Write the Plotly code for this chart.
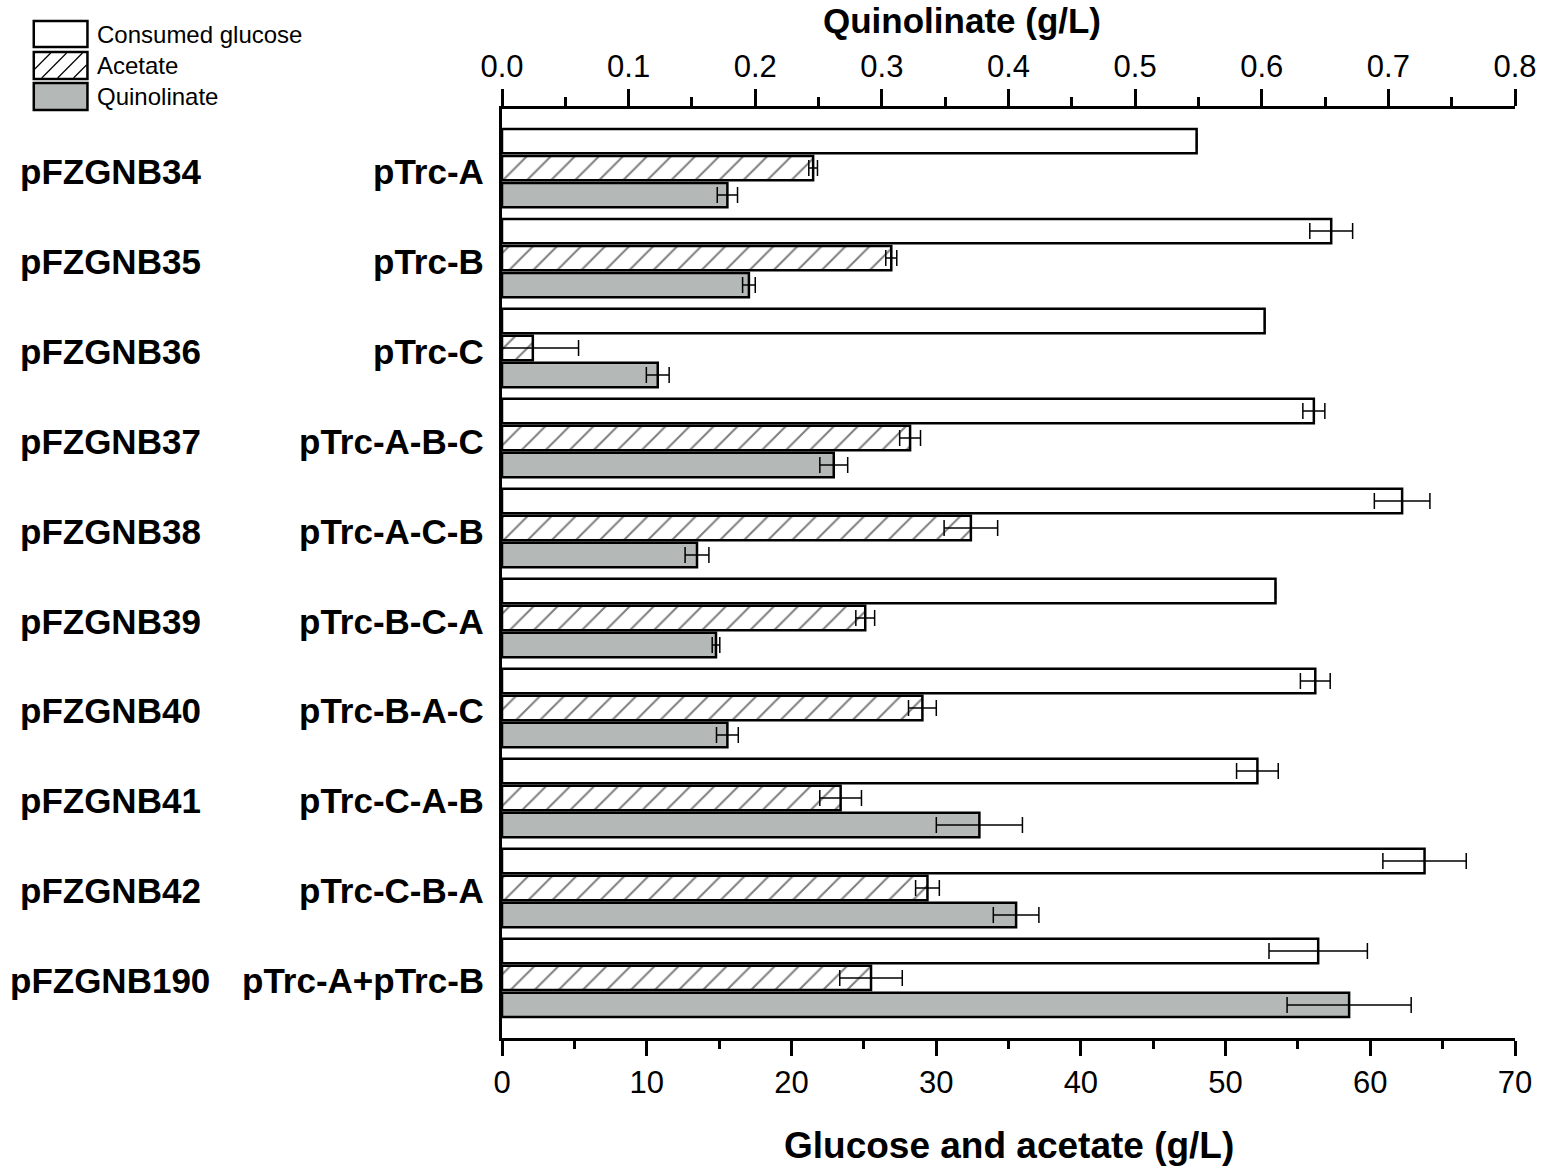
import plotly.graph_objects as go

plasmids = ["pFZGNB34", "pFZGNB35", "pFZGNB36", "pFZGNB37", "pFZGNB38",
            "pFZGNB39", "pFZGNB40", "pFZGNB41", "pFZGNB42", "pFZGNB190"]
constructs = ["pTrc-A", "pTrc-B", "pTrc-C", "pTrc-A-B-C", "pTrc-A-C-B",
              "pTrc-B-C-A", "pTrc-B-A-C", "pTrc-C-A-B", "pTrc-C-B-A", "pTrc-A+pTrc-B"]

glucose = [48.0, 57.3, 52.7, 56.1, 62.2, 53.45, 56.2, 52.2, 63.75, 56.4]
glucose_err = [0.0, 1.48, 0.0, 0.76, 1.92, 0.0, 1.03, 1.44, 2.88, 3.4]
acetate = [21.5, 26.9, 2.13, 28.2, 32.4, 25.1, 29.05, 23.4, 29.4, 25.5]
acetate_err = [0.3, 0.38, 3.16, 0.72, 1.85, 0.65, 0.96, 1.44, 0.82, 2.16]
quinolinate = [0.178, 0.195, 0.123, 0.262, 0.154, 0.169, 0.178, 0.377, 0.406, 0.669]
quinolinate_err = [0.008, 0.005, 0.009, 0.011, 0.0094, 0.003, 0.0086, 0.034, 0.018, 0.049]

FONT = "Arial, Liberation Sans, sans-serif"
W, H = 1549, 1170
X0, X1, YT, YB = 502, 1521, 109, 1038
PW, PH = X1 - X0, YB - YT

def px(x):
    return (x - X0) / PW

def py(y):
    return (YB - y) / PH

idx = list(range(len(plasmids)))
OFF = 0.3
BW = 0.27
err_style = dict(type="data", visible=True, color="black", thickness=1.5, width=8)

fig = go.Figure()
fig.add_trace(go.Bar(
    y=[i - OFF for i in idx], x=glucose, orientation="h", width=BW,
    marker=dict(color="white", line=dict(color="black", width=2.5)),
    error_x=dict(array=glucose_err, **err_style), name="Consumed glucose",
    xaxis="x", yaxis="y", showlegend=False))
fig.add_trace(go.Bar(
    y=idx, x=acetate, orientation="h", width=BW,
    marker=dict(color="white", line=dict(color="black", width=2.5),
                pattern=dict(shape="/", fgcolor="black", bgcolor="white",
                             size=17, solidity=0.12, fillmode="overlay")),
    error_x=dict(array=acetate_err, **err_style), name="Acetate",
    xaxis="x", yaxis="y", showlegend=False))
fig.add_trace(go.Bar(
    y=[i + OFF for i in idx], x=quinolinate, orientation="h", width=BW,
    marker=dict(color="#b4b8b6", line=dict(color="black", width=2.5)),
    error_x=dict(array=quinolinate_err, **err_style), name="Quinolinate",
    xaxis="x2", yaxis="y", showlegend=False))

axis_common = dict(showline=True, linecolor="black", linewidth=2.5,
                   showgrid=False, zeroline=False, ticks="outside",
                   tickcolor="black", tickwidth=2.5,
                   tickfont=dict(family=FONT, size=31, color="black"))

fig.update_layout(
    width=W, height=H, autosize=False,
    margin=dict(l=X0, r=W - X1, t=YT, b=H - YB, pad=0),
    plot_bgcolor="white", paper_bgcolor="white",
    barmode="overlay", showlegend=False,
    xaxis=dict(range=[0, 70], tickvals=list(range(0, 71, 10)), ticklen=15,
               minor=dict(dtick=5, tick0=0, ticklen=8, tickwidth=2.5,
                          ticks="outside", tickcolor="black"),
               side="bottom", anchor="y", **axis_common),
    xaxis2=dict(range=[0, 0.8], tickvals=[i / 10 for i in range(9)],
                ticktext=[f"{i / 10:.1f}" for i in range(9)], ticklen=17,
                minor=dict(dtick=0.05, tick0=0, ticklen=9, tickwidth=2.5,
                           ticks="outside", tickcolor="black"),
                overlaying="x", side="top", anchor="y", **axis_common),
    yaxis=dict(range=[9.667, -0.656], showline=True, linecolor="black",
               linewidth=2.5, showgrid=False, zeroline=False, ticks="",
               showticklabels=False),
)

annotations = []
bold = dict(family=FONT, size=35, color="black", weight="bold")
for i in idx:
    annotations.append(dict(x=px(108), y=i, xref="paper", yref="y",
                            text=plasmids[i], showarrow=False,
                            xanchor="center", yanchor="middle", yshift=-3,
                            font=bold))
    annotations.append(dict(x=px(486), y=i, xref="paper", yref="y",
                            text=constructs[i], showarrow=False,
                            xanchor="right", yanchor="middle", yshift=-3,
                            font=bold))

annotations.append(dict(x=px(965), y=py(21), xref="paper", yref="paper",
                        text="Quinolinate (g/L)", showarrow=False,
                        xanchor="center", yanchor="middle",
                        font=dict(family=FONT, size=35, color="black", weight="bold")))
annotations.append(dict(x=px(1012), y=py(1145), xref="paper", yref="paper",
                        text="Glucose and acetate (g/L)", showarrow=False,
                        xanchor="center", yanchor="middle",
                        font=dict(family=FONT, size=37, color="black", weight="bold")))

# legend
legend_items = [("Consumed glucose", 21, 47, "white"),
                ("Acetate", 52, 79, "white"),
                ("Quinolinate", 83, 110, "#b4b8b6")]
shapes = []
for k, (lab, t, b, col) in enumerate(legend_items):
    shapes.append(dict(type="rect", xref="paper", yref="paper",
                       x0=px(31), x1=px(85), y0=py(b), y1=py(t),
                       fillcolor=col, line=dict(color="black", width=2.5),
                       layer="above"))
    annotations.append(dict(x=px(93), y=py((t + b) / 2), xref="paper",
                            yref="paper", text=lab, showarrow=False,
                            xanchor="left", yanchor="middle",
                            font=dict(family=FONT, size=24, color="black")))

# hatch lines inside the acetate legend box
bx0, bx1, bt, bb = 32, 84, 53, 78
hh = bb - bt
s = bx0 - hh
while s < bx1:
    xa, ya = s, bb
    xb, yb = s + hh, bt
    if xa < bx0:
        ya = bb - (bx0 - xa)
        xa = bx0
    if xb > bx1:
        yb = bt + (xb - bx1)
        xb = bx1
    if xb > xa:
        shapes.append(dict(type="line", xref="paper", yref="paper",
                           x0=px(xa), y0=py(ya), x1=px(xb), y1=py(yb),
                           line=dict(color="black", width=1.2)))
    s += 16

fig.update_layout(annotations=annotations, shapes=shapes)
fig.write_html("out.html",
               config={"displayModeBar": False},
               post_script="document.body.style.margin='0';"
                           "document.body.style.overflow='hidden';")
